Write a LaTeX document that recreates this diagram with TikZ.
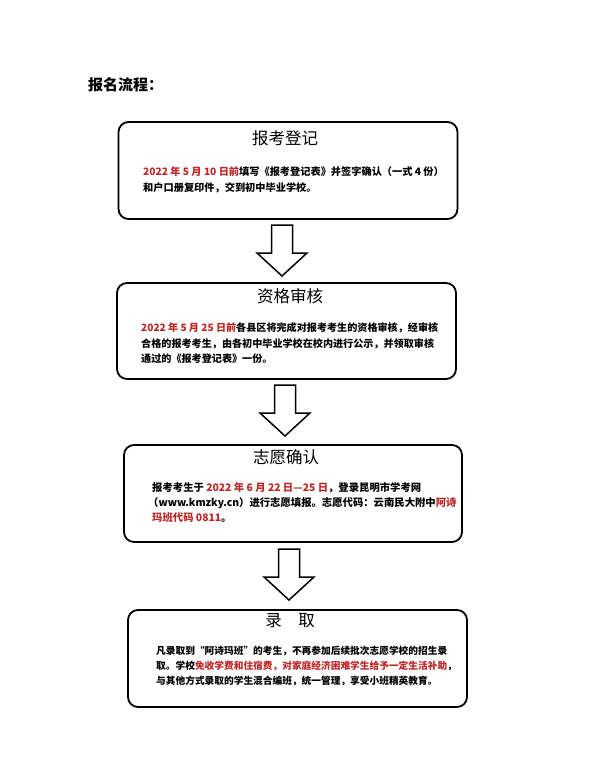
\documentclass[tikz,border=0pt]{standalone}
\usepackage{fontspec}
\newfontfamily\cjk{Noto Sans CJK SC}
\definecolor{txtred}{RGB}{190,38,38}
\begin{document}
\begin{tikzpicture}[x=1pt,y=-1pt,
  box/.style={draw, line width=1.8pt, rounded corners=10pt, inner sep=0pt},
  boxtitle/.style={font=\cjk\fontsize{16.5}{18}\selectfont, inner sep=0pt},
  body/.style={font=\cjk\bfseries\fontsize{10.2}{16}\selectfont, align=left, inner sep=0pt, anchor=north west},
  downarrow/.pic={\draw[line width=1.5pt, line join=miter, fill=white]
     (-10.5,0) -- (10.5,0) -- (10.5,28) -- (25,28) -- (0,51) -- (-25,28) -- (-10.5,28) -- cycle;}]
\useasboundingbox[fill=white] (0,0) rectangle (600,776);

\node[font=\cjk\bfseries\fontsize{15}{17}\selectfont, anchor=west, inner sep=0pt] (head) at (88,85) {报名流程：};

% boxes
\node[box, minimum width=339, minimum height=97] (b1) at (288,170.5) {};
\node[box, minimum width=339, minimum height=96] (b2) at (286.5,331) {};
\node[box, minimum width=338, minimum height=97] (b3) at (293,493.5) {};
\node[box, minimum width=339, minimum height=97] (b4) at (297.5,658.5) {};

% titles
\node[boxtitle] (h1) at (285,138) {报考登记};
\node[boxtitle] (h2) at (290,296) {资格审核};
\node[boxtitle] (h3) at (286,457) {志愿确认};
\node[boxtitle] (h4) at (290,621) {录\quad 取};

% bodies
\node[body] (t1) at (143,166.5) {\textcolor{txtred}{2022 年 5 月 10 日前}填写《报考登记表》并签字确认（一式 4 份）\\和户口册复印件，交到初中毕业学校。};
\node[body, font=\cjk\bfseries\fontsize{10.1}{15.5}\selectfont] (t2) at (141,322.5) {\textcolor{txtred}{2022 年 5 月 25 日前}各县区将完成对报考考生的资格审核，经审核\\合格的报考考生，由各初中毕业学校在校内进行公示，并领取审核\\通过的《报考登记表》一份。};
\node[body, font=\cjk\bfseries\fontsize{10.35}{15}\selectfont] (t3) at (152,482.5) {报考考生于 \textcolor{txtred}{2022 年 6 月 22 日—25 日}，登录昆明市学考网\\\hspace*{-4pt}（www.kmzky.cn）进行志愿填报。志愿代码：云南民大附中\textcolor{txtred}{阿诗}\\\textcolor{txtred}{玛班代码 0811}。};
\node[body, font=\cjk\bfseries\fontsize{9.7}{15}\selectfont] (t4) at (156,645.5) {凡录取到“阿诗玛班”的考生，不再参加后续批次志愿学校的招生录\\取。学校\textcolor{txtred}{免收学费和住宿费，对家庭经济困难学生给予一定生活补助}，\\与其他方式录取的学生混合编班，统一管理，享受小班精英教育。};

% block arrows between boxes
\pic (ar1) at (282,225) {downarrow};
\pic (ar2) at (285,385) {downarrow};
\pic (ar3) at (289,549) {downarrow};
\end{tikzpicture}
\end{document}
